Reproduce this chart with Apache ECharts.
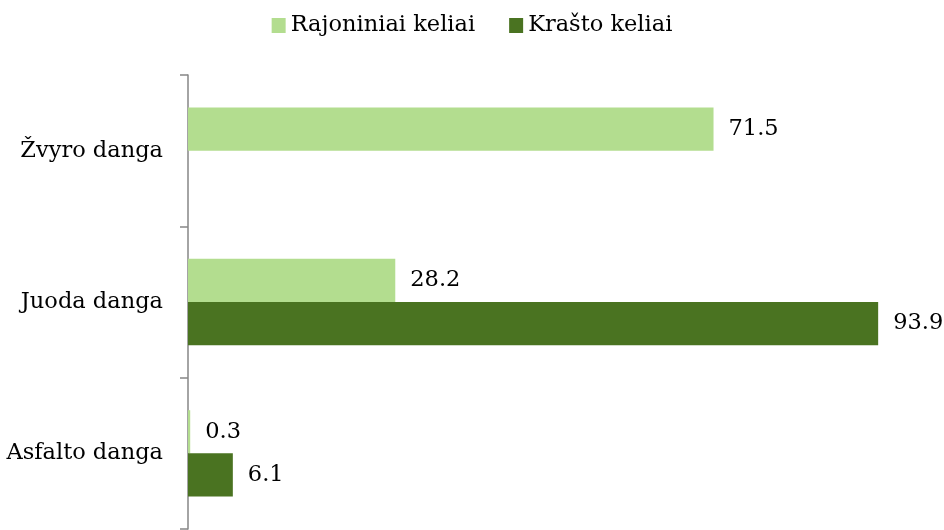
<!DOCTYPE html>
<html><head><meta charset="utf-8">
<script src="https://cdn.jsdelivr.net/npm/echarts@6/dist/echarts.min.js"></script>
<style>html,body{margin:0;padding:0;background:#fff}#c{width:944px;height:530px}</style>
</head><body><div id="c"></div>
<script>
const categories = ['Žvyro danga', 'Juoda danga', 'Asfalto danga'];
const seriesNames = ['Rajoniniai keliai', 'Krašto keliai'];
const rajoniniai = [71.5, 28.2, 0.3];
const krasto = [null, 93.9, 6.1];
const colors = ['#b3dd8f', '#4a7321'];
const FONT = 'DejaVu Serif';
const FS = 22.5;

const chart = echarts.init(document.getElementById('c'));
const lbl = {show: true, position: 'right', distance: 15, color: '#000', fontFamily: FONT, fontSize: FS,
  formatter: p => p.value == null ? '' : p.value.toFixed(1)};
chart.setOption({
  animation: false,
  legend: {top: 9, left: 'center', itemWidth: 14, itemHeight: 15, itemGap: 34,
    icon: 'rect', textStyle: {fontFamily: FONT, fontSize: FS, color: '#000'}, data: seriesNames},
  grid: {left: 188, right: 21, top: 75, bottom: 1, containLabel: false},
  xAxis: {type: 'value', min: 0, max: 100, show: false},
  yAxis: {type: 'category', data: categories, inverse: true,
    axisLine: {lineStyle: {color: '#868686', width: 1.5}},
    axisTick: {show: true, length: 8, lineStyle: {color: '#868686', width: 1.5}},
    axisLabel: {margin: 25, color: '#000', fontFamily: FONT, fontSize: FS}},
  series: [
    {name: seriesNames[0], type: 'bar', data: rajoniniai, itemStyle: {color: colors[0]},
      barGap: '0%', barCategoryGap: '43%', label: lbl},
    {name: seriesNames[1], type: 'bar', data: krasto, itemStyle: {color: colors[1]},
      barGap: '0%', barCategoryGap: '43%', label: lbl}
  ]
});
</script></body></html>
